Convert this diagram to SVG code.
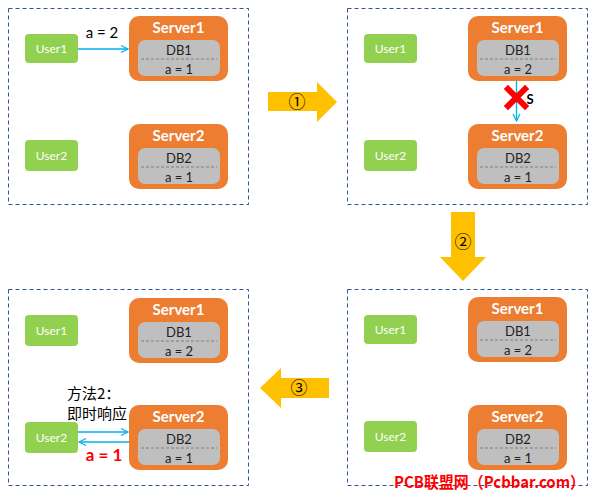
<svg xmlns="http://www.w3.org/2000/svg" width="595" height="496" viewBox="0 0 595 496">
<style>
.panel{fill:#fff;stroke:#2F5597;stroke-width:1;stroke-dasharray:4 3}
.user{fill:#92D050}
.ut{font-family:Lato,"Noto Sans",sans-serif;font-size:12px;fill:#fff;text-anchor:middle}
.srv{fill:#ED7D31}
.st{font-family:Lato,"Noto Sans",sans-serif;font-size:15px;font-weight:bold;fill:#fff;text-anchor:middle}
.db{fill:#BFBFBF}
.dl{stroke:#7F7F7F;stroke-width:1;stroke-dasharray:3 2}
.dt{font-family:Lato,"Noto Sans",sans-serif;font-size:13px;fill:#222;text-anchor:middle}
.ln{stroke:#00B0F0;stroke-width:1.3;fill:none}
.big{fill:#FFC000}
.num{font-family:"Noto Sans CJK SC",sans-serif;font-size:17px;fill:#000;text-anchor:middle}
.cjk{font-family:"Noto Sans CJK SC",sans-serif;font-size:15px;fill:#000}
</style>
<defs>
<marker id="ah" markerWidth="10" markerHeight="10" refX="8" refY="4" orient="auto" markerUnits="userSpaceOnUse">
<path d="M1,0.5 L8,4 L1,7.5" fill="none" stroke="#00B0F0" stroke-width="1.2"/>
</marker>
</defs>
<rect width="595" height="496" fill="#fff"/>

<!-- Panel 1 -->
<g id="panel1">
<rect class="panel" x="8.5" y="8.5" width="240" height="196"/>
<g id="p1-user1"><rect class="user" x="25" y="34" width="53" height="29" rx="4"/><text class="ut" x="51.5" y="53">User1</text></g>
<g id="p1-user2"><rect class="user" x="25" y="140" width="53" height="31" rx="4"/><text class="ut" x="51.5" y="160">User2</text></g>
<g id="p1-server1"><rect class="srv" x="129" y="16" width="99" height="65" rx="10"/><text class="st" x="178.5" y="33">Server1</text>
<rect class="db" x="138" y="40" width="82" height="36" rx="7"/><line class="dl" x1="141" y1="59" x2="217" y2="59"/>
<text class="dt" x="179" y="54.5">DB1</text><text class="dt" x="179" y="73.5">a = 1</text></g>
<g id="p1-server2"><rect class="srv" x="129" y="124" width="99" height="65" rx="10"/><text class="st" x="178.5" y="141">Server2</text>
<rect class="db" x="138" y="148" width="82" height="36" rx="7"/><line class="dl" x1="141" y1="167" x2="217" y2="167"/>
<text class="dt" x="179" y="162.5">DB2</text><text class="dt" x="179" y="181.5">a = 1</text></g>
</g>

<!-- Panel 2 -->
<g id="panel2">
<rect class="panel" x="347.5" y="8.5" width="240" height="196"/>
<g id="p2-user1"><rect class="user" x="364" y="34" width="53" height="29" rx="4"/><text class="ut" x="390.5" y="53">User1</text></g>
<g id="p2-user2"><rect class="user" x="364" y="140" width="53" height="31" rx="4"/><text class="ut" x="390.5" y="160">User2</text></g>
<g id="p2-server1"><rect class="srv" x="468" y="16" width="99" height="65" rx="10"/><text class="st" x="517.5" y="33">Server1</text>
<rect class="db" x="477" y="40" width="82" height="36" rx="7"/><line class="dl" x1="480" y1="59" x2="556" y2="59"/>
<text class="dt" x="518" y="54.5">DB1</text><text class="dt" x="518" y="73.5">a = 2</text></g>
<g id="p2-server2"><rect class="srv" x="468" y="124" width="99" height="65" rx="10"/><text class="st" x="517.5" y="141">Server2</text>
<rect class="db" x="477" y="148" width="82" height="36" rx="7"/><line class="dl" x1="480" y1="167" x2="556" y2="167"/>
<text class="dt" x="518" y="162.5">DB2</text><text class="dt" x="518" y="181.5">a = 1</text></g>
</g>

<!-- Panel 3 (bottom right) -->
<g id="panel3">
<rect class="panel" x="347.5" y="289.5" width="240" height="196"/>
<g id="p3-user1"><rect class="user" x="364" y="315" width="53" height="29" rx="4"/><text class="ut" x="390.5" y="334">User1</text></g>
<g id="p3-user2"><rect class="user" x="364" y="421" width="53" height="31" rx="4"/><text class="ut" x="390.5" y="441">User2</text></g>
<g id="p3-server1"><rect class="srv" x="468" y="297" width="99" height="65" rx="10"/><text class="st" x="517.5" y="314">Server1</text>
<rect class="db" x="477" y="321" width="82" height="36" rx="7"/><line class="dl" x1="480" y1="340" x2="556" y2="340"/>
<text class="dt" x="518" y="335.5">DB1</text><text class="dt" x="518" y="354.5">a = 2</text></g>
<g id="p3-server2"><rect class="srv" x="468" y="405" width="99" height="65" rx="10"/><text class="st" x="517.5" y="422">Server2</text>
<rect class="db" x="477" y="429" width="82" height="36" rx="7"/><line class="dl" x1="480" y1="448" x2="556" y2="448"/>
<text class="dt" x="518" y="443.5">DB2</text><text class="dt" x="518" y="462.5">a = 1</text></g>
</g>

<!-- Panel 4 (bottom left) -->
<g id="panel4">
<rect class="panel" x="8.5" y="289.5" width="240" height="196"/>
<g id="p4-user1"><rect class="user" x="25" y="315" width="53" height="31" rx="4"/><text class="ut" x="51.5" y="335">User1</text></g>
<g id="p4-user2"><rect class="user" x="25" y="422" width="53" height="31" rx="4"/><text class="ut" x="51.5" y="442">User2</text></g>
<g id="p4-server1"><rect class="srv" x="129" y="298" width="99" height="65" rx="10"/><text class="st" x="178.5" y="315">Server1</text>
<rect class="db" x="138" y="322" width="82" height="36" rx="7"/><line class="dl" x1="141" y1="341" x2="217" y2="341"/>
<text class="dt" x="179" y="336.5">DB1</text><text class="dt" x="179" y="355.5">a = 2</text></g>
<g id="p4-server2"><rect class="srv" x="129" y="405" width="99" height="65" rx="10"/><text class="st" x="178.5" y="422">Server2</text>
<rect class="db" x="138" y="429" width="82" height="36" rx="7"/><line class="dl" x1="141" y1="448" x2="217" y2="448"/>
<text class="dt" x="179" y="443.5">DB2</text><text class="dt" x="179" y="462.5">a = 1</text></g>
<text class="cjk" x="67" y="399">方法2：</text>
<text class="cjk" x="67" y="419">即时响应</text>
<text x="104" y="461" font-family="Lato,'Noto Sans',sans-serif" font-size="17" font-weight="bold" fill="#FF0000" text-anchor="middle">a = 1</text>
</g>

<!-- Connectors -->
<g id="connectors">
<line class="ln" x1="78" y1="49" x2="128" y2="49" marker-end="url(#ah)"/>
<text x="102" y="38" font-family="Lato,'Noto Sans',sans-serif" font-size="15" fill="#000" text-anchor="middle">a = 2</text>
<line class="ln" x1="516.5" y1="81" x2="516.5" y2="121" marker-end="url(#ah)"/>
<path d="M508,89 L525,106 M525,89 L508,106" stroke="#FF0000" stroke-width="6" stroke-linecap="square"/>
<text x="530" y="104" font-family="Lato,'Noto Sans',sans-serif" font-size="13" font-weight="bold" fill="#000" text-anchor="middle">S</text>
<line class="ln" x1="78" y1="432" x2="128" y2="432" marker-end="url(#ah)"/>
<line class="ln" x1="129" y1="442" x2="79" y2="442" marker-end="url(#ah)"/>
</g>

<!-- Step arrows -->
<g id="step1"><path class="big" d="M268,92 L317,92 L317,82 L337,102 L317,122 L317,111 L268,111 Z"/><text class="num" x="297" y="108">①</text></g>
<g id="step2"><path class="big" d="M451,212 L475,212 L475,257 L486,257 L463,281 L440,257 L451,257 Z"/><text class="num" x="463" y="248">②</text></g>
<g id="step3"><path class="big" d="M329,378 L329,398 L281,398 L281,408 L260,388 L281,368 L281,378 Z"/><text class="num" x="299" y="394">③</text></g>

<text x="394" y="488" font-family="'Noto Sans CJK SC',sans-serif" font-size="16" font-weight="bold" fill="#FF0000" textLength="191" lengthAdjust="spacingAndGlyphs">PCB联盟网（Pcbbar.com）</text>
</svg>
